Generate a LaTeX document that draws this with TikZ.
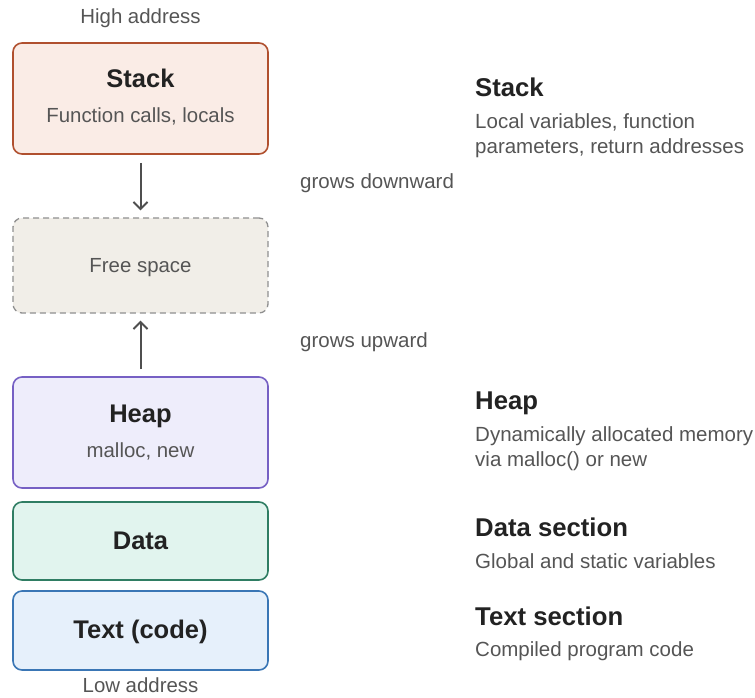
\documentclass[tikz,border=0pt]{standalone}
\usepackage{fontspec}
\setmainfont{Liberation Sans}
\usetikzlibrary{arrows.meta}

\definecolor{inkdark}{HTML}{222222}
\definecolor{inkgray}{HTML}{555555}
\definecolor{stackfill}{HTML}{FAECE6}
\definecolor{stackline}{HTML}{B0502F}
\definecolor{freefill}{HTML}{F1EEE8}
\definecolor{freeline}{HTML}{8F8F8F}
\definecolor{heapfill}{HTML}{EEEDFB}
\definecolor{heapline}{HTML}{7660C4}
\definecolor{datafill}{HTML}{E1F4EE}
\definecolor{dataline}{HTML}{2F7D63}
\definecolor{textfill}{HTML}{E6F0FB}
\definecolor{textline}{HTML}{3A76B5}
\definecolor{arrowgray}{HTML}{4F4F4F}

\begin{document}
\begin{tikzpicture}[x=1pt,y=-1pt,
  segment/.style={draw, rounded corners=9pt, line width=1.6pt,
    minimum width=255pt, inner sep=0pt},
  title/.style={anchor=base, inner sep=0pt, text=inkdark,
    font=\fontsize{25.5}{30}\selectfont\bfseries},
  sub/.style={anchor=base, inner sep=0pt, text=inkgray,
    font=\fontsize{20.4}{24}\selectfont},
  side/.style={anchor=base west, inner sep=0pt, text=inkgray,
    font=\fontsize{20.5}{24}\selectfont},
  sidetitle/.style={anchor=base west, inner sep=0pt, text=inkdark,
    font=\fontsize{25.7}{30}\selectfont\bfseries},
  growarrow/.style={draw=arrowgray, line width=2pt,
    -{Straight Barb[length=7pt,width=14pt,line width=2pt]}}
]
\useasboundingbox (0,0) rectangle (755,697);

% memory segments, high address at the top
\node[segment, fill=stackfill, draw=stackline, minimum height=111pt] (stack) at (140.5,98.5) {};
\node[segment, fill=freefill, draw=freeline, dash pattern=on 6pt off 4pt, line width=1.3pt, minimum height=95pt] (free) at (140.5,265.5) {};
\node[segment, fill=heapfill, draw=heapline, minimum height=111pt] (heap) at (140.5,432.5) {};
\node[segment, fill=datafill, draw=dataline, minimum height=78pt] (data) at (140.5,541) {};
\node[segment, fill=textfill, draw=textline, minimum height=79pt] (text) at (140.5,630.5) {};

% segment labels
\node[sub] (high) at (140.5,23.3) {High address};
\node[title] (stackT) at (140.5,87.3) {Stack};
\node[sub] (stackS) at (140.5,122.7) {Function calls, locals};
\node[sub] (freeT) at (140.5,272.7) {Free space};
\node[title] (heapT) at (140.5,422.7) {Heap};
\node[sub] (heapS) at (140.5,457.3) {malloc, new};
\node[title] (dataT) at (140.5,549.3) {Data};
\node[title] (textT) at (140.5,638.3) {Text (code)};
\node[sub] (low) at (140.5,692.3) {Low address};

% growth directions
\draw[growarrow, shorten <=8pt, shorten >=7pt] (stack.south) -- (free.north);
\draw[growarrow, shorten <=7pt, shorten >=7pt] (heap.north) -- (free.south);
\node[side] (down) at (300,188.3) {grows downward};
\node[side] (up) at (300,347.3) {grows upward};

% descriptions
\node[sidetitle] (dStack) at (475,96) {Stack};
\node[side] (dStack1) at (475,128.3) {Local variables, function};
\node[side] (dStack2) at (475,153.3) {parameters, return addresses};
\node[sidetitle] (dHeap) at (475,409.3) {Heap};
\node[side] (dHeap1) at (475,441.7) {Dynamically allocated memory};
\node[side] (dHeap2) at (475,466) {via malloc() or new};
\node[sidetitle] (dData) at (475,536.7) {Data section};
\node[side] (dData1) at (475,568.3) {Global and static variables};
\node[sidetitle] (dText) at (475,625) {Text section};
\node[side] (dText1) at (475,656.7) {Compiled program code};
\end{tikzpicture}
\end{document}
